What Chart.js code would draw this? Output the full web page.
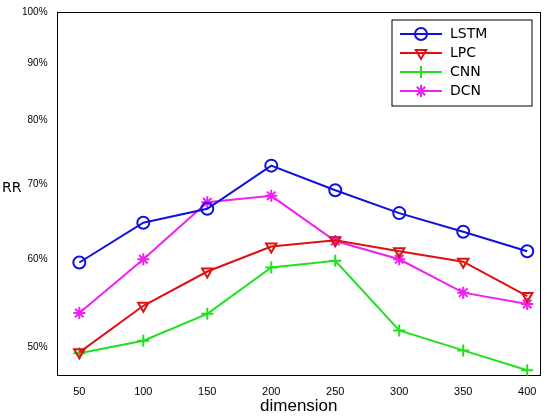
<!DOCTYPE html><html><head><script src="https://cdn.jsdelivr.net/npm/chart.js@4"></script>
<style>body{margin:0;background:#fff}#w{width:551px;height:417px}</style></head><body><div id="w"><canvas id="c"></canvas></div>
<script>
const dims=[50,100,150,200,250,300,350,400];
const lstm=[59.6,64.7,66.6,72.8,69.2,66,63.5,61];
const lpc=[49.5,54.5,58.5,61.6,62.4,61,59.7,55.6];
const cnn=[49.4,50.7,53.6,59,59.8,51.8,49.7,47.7];
const dcn=[53.7,60,67.5,68.4,62.3,60,56,54.7];
const yTicks=[50,60,70,80,90,100];
const names=['LSTM','LPC','CNN','DCN'];
const cols=['#1010e0','#e01010','#20e020','#f020f0'];
const styles=['circle','triangle','cross','star'];
const rots=[0,180,0,0];
const series=[lstm,lpc,cnn,dcn];
const ds=series.map((s,i)=>({label:names[i],data:s.map((v,j)=>({x:dims[j],y:v})),borderColor:cols[i],backgroundColor:'transparent',pointBackgroundColor:'transparent',pointBorderColor:cols[i],pointStyle:styles[i],rotation:rots[i],pointRadius:6,pointBorderWidth:2,borderWidth:2}));
const legendBox={id:'lb',afterDraw(ch){const c=ch.ctx,a=ch.chartArea;const x0=a.right-148,y0=a.top+8;c.save();c.strokeStyle='#000';c.lineWidth=1;c.strokeRect(x0,y0,140,86);
names.forEach((n,i)=>{const y=y0+14+i*19;c.strokeStyle=cols[i];c.fillStyle='rgba(0,0,0,0)';c.lineWidth=2;c.beginPath();c.moveTo(x0+8,y);c.lineTo(x0+50,y);c.stroke();
Chart.helpers.drawPoint(c,{pointStyle:styles[i],rotation:rots[i],radius:6,borderWidth:2},x0+29,y);
c.fillStyle='#000';c.font='14px "DejaVu Sans"';c.textBaseline='middle';c.fillText(n,x0+58,y);});
c.font='14px "DejaVu Sans"';c.textBaseline='middle';c.fillStyle='#000';c.fillText('RR',2,188);c.restore();}};
new Chart(document.getElementById('c'),{type:'line',data:{datasets:ds},plugins:[legendBox],
options:{responsive:true,maintainAspectRatio:false,animation:false,layout:{padding:{top:4,right:3,left:20,bottom:0}},
plugins:{legend:{display:false},tooltip:{enabled:false}},
scales:{x:{type:'linear',min:33,max:410,afterBuildTicks:a=>{a.ticks=dims.map(v=>({value:v}))},grid:{display:false},border:{color:'#000'},ticks:{color:'#000',font:{size:11},padding:2},title:{display:true,text:'dimension',color:'#000',font:{size:17},padding:{top:-4,bottom:0}}},
y:{type:'logarithmic',min:47.2,max:100,afterBuildTicks:a=>{a.ticks=yTicks.map(v=>({value:v}))},grid:{display:false},border:{color:'#000'},ticks:{color:'#000',font:{size:10},padding:2,callback:v=>v+'%'}},
x2:{position:'top',type:'linear',min:33,max:410,grid:{display:false},ticks:{display:false},border:{color:'#000'}},
y2:{position:'right',type:'linear',grid:{display:false},ticks:{display:false},border:{color:'#000'}}}}});
</script></body></html>
